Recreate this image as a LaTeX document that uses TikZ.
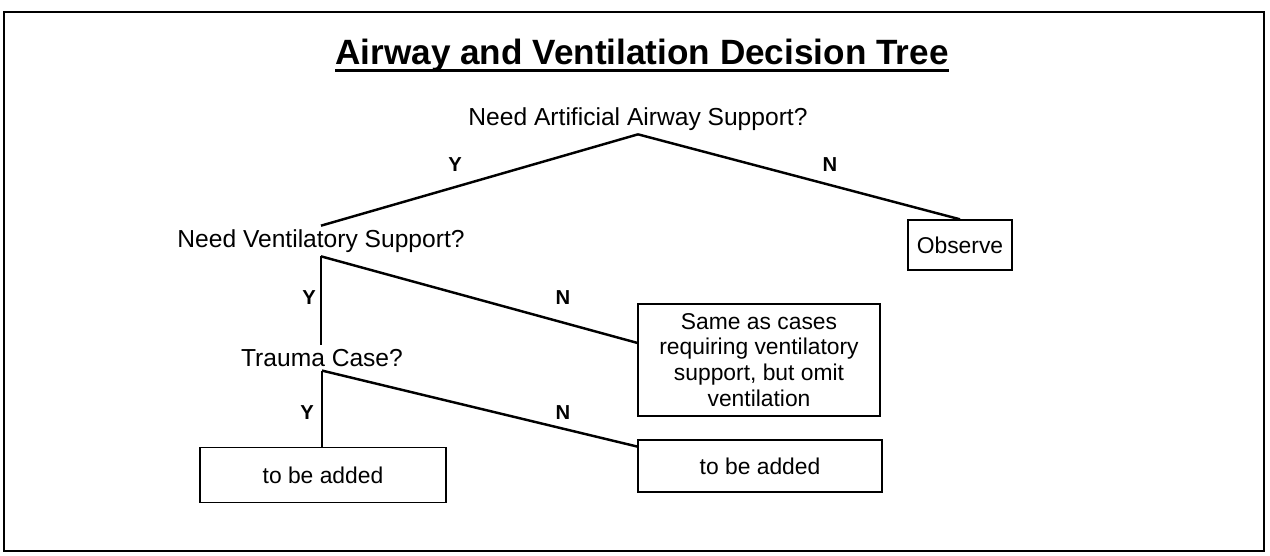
\documentclass[tikz,border=0pt]{standalone}
\usepackage{fontspec}
\setmainfont{Liberation Sans}
\usetikzlibrary{positioning}

\begin{document}
\begin{tikzpicture}[x=0.02cm,y=-0.02cm,font=\fontsize{14}{16}\selectfont]
  \tikzstyle{box}=[draw,line width=0.8pt,align=center,font=\fontsize{13}{14.7}\selectfont]
  \tikzstyle{quest}=[inner sep=2pt]
  \tikzstyle{branch}=[line width=1.4pt]
  \tikzstyle{yn}=[font=\fontsize{11.5}{13}\selectfont\bfseries]
  \useasboundingbox (0,0) rectangle (1270,555);
  \draw[line width=1.6pt] (4,12) rectangle (1264,551);

  % title
  \node[inner sep=0pt] (title) at (642,55) {\fontsize{20}{24}\selectfont\bfseries Airway and Ventilation Decision Tree};
  \draw[line width=1.6pt] ([yshift=-3.5pt]title.base west) -- ([yshift=-3.5pt]title.base east);

  % questions
  \node[quest] (airway) at (638,119) {Need Artificial Airway Support?};
  \node[quest] (vent) at (321,241) {Need Ventilatory Support?};
  \node[quest] (trauma) at (322,358) {Trauma Case?};

  % outcomes
  \node[box,minimum width=2.08cm,minimum height=1cm] (observe) at (960,245) {Observe};
  \node[box,minimum width=4.84cm,minimum height=2.24cm] (same) at (759,360)
    {Same as cases\\requiring ventilatory\\support, but omit\\ventilation};
  \node[box,minimum width=4.92cm,minimum height=1.1cm] (tbaY) at (323,475) {to be added};
  \node[box,minimum width=4.88cm,minimum height=1.04cm] (tbaN) at (760,466) {to be added};

  % branches
  \draw[branch] (airway.south) -- (vent.north);
  \draw[branch] (airway.south) -- (observe.north);
  \draw[branch] (vent.south) -- (vent.south |- trauma.north);
  \draw[branch] (vent.south) -- (same.172);
  \draw[branch] (trauma.south) -- (trauma.south |- tbaY.north);
  \draw[branch] (trauma.south) -- (tbaN.171);

  \node[yn] (y1) at (455,165) {Y};
  \node[yn] (n1) at (830,165) {N};
  \node[yn] (y2) at (309,298) {Y};
  \node[yn] (n2) at (563,298) {N};
  \node[yn] (y3) at (307,413) {Y};
  \node[yn] (n3) at (563,413) {N};
\end{tikzpicture}
\end{document}
